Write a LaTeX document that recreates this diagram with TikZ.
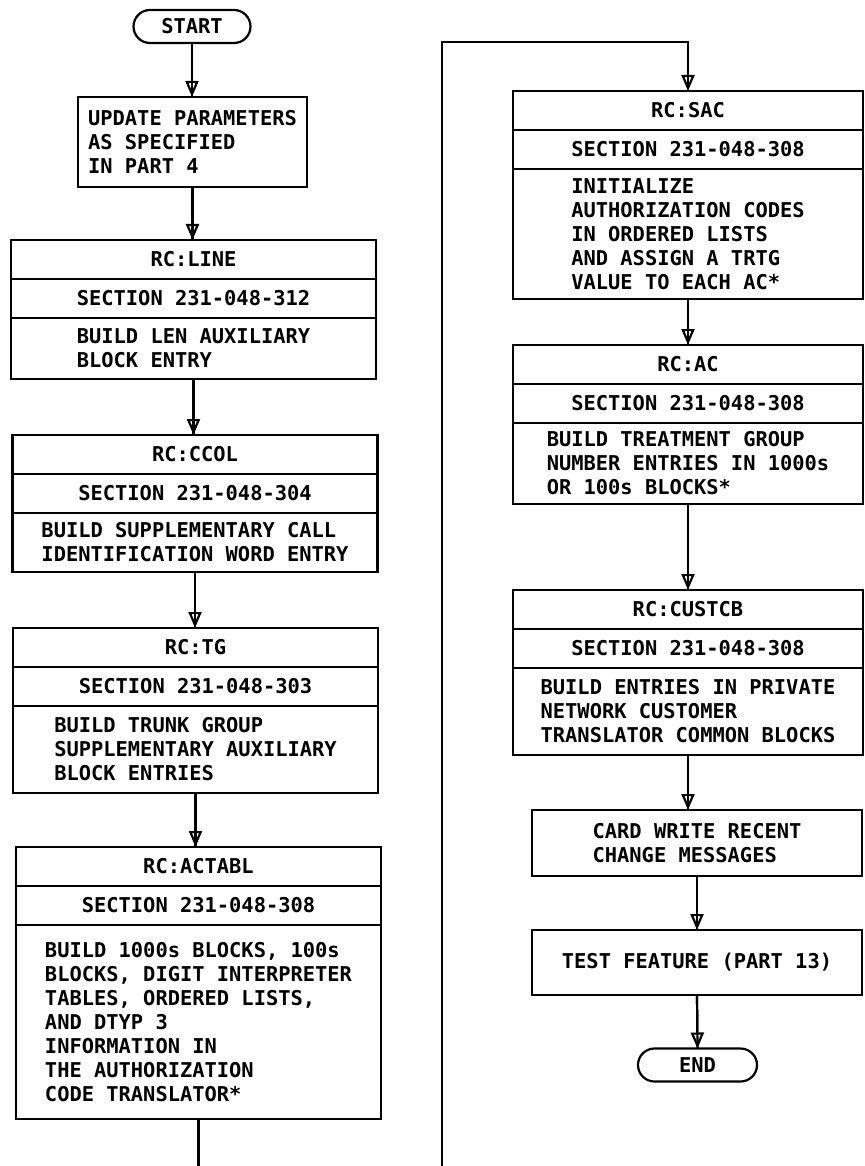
\documentclass[tikz,border=0pt]{standalone}
\usepackage{fontspec}
\setmonofont{DejaVu Sans Mono}
\usetikzlibrary{arrows.meta}
\tikzset{
  wire/.style={draw, line width=1.1pt},
  flow/.style={wire, postaction={draw, -{Triangle[open, length=8pt, width=6.5pt]}}},
  term/.style={draw, line width=1.1pt, rounded corners=8.25pt, minimum height=16.5pt,
              inner sep=0pt, outer sep=0pt, font=\ttfamily\bfseries\fontsize{10.2}{12}\selectfont},
  blk/.style={draw, line width=1.1pt, align=left, inner sep=0pt, outer sep=0pt,
              font=\ttfamily\bfseries\fontsize{10.2}{12}\selectfont},
  row/.style={blk, minimum height=19.5pt},
  lcol/.style={minimum width=182.5pt},
  rcol/.style={minimum width=175pt},
}
% three stacked rows: name, column, top, title, section, body height, body
\newcommand{\rcblock}[7]{%
  \node[row,#2,anchor=north] (#1a) at #3 {#4};
  \node[row,#2,anchor=north] (#1b) at (#1a.south) {#5};
  \node[blk,#2,anchor=north,minimum height=#6] (#1c) at (#1b.south) {#7};}
\begin{document}
\begin{tikzpicture}[x=0.5pt,y=-0.5pt]
  \useasboundingbox (0,0) rectangle (864,1166);
  \coordinate (pgtop) at (0,42);
  \coordinate (pgbot) at (0,1166);
  % left column
  \node[term,minimum width=58.5pt] (start) at (192,26.5) {START};
  \node[blk,minimum width=114.5pt,minimum height=45pt] (upd) at (192.5,142)
    {UPDATE PARAMETERS\\AS SPECIFIED\\IN PART 4};
  \rcblock{line}{lcol}{(193.5,240)}{RC:LINE}{SECTION 231-048-312}{30.5pt}
    {BUILD LEN AUXILIARY\\BLOCK ENTRY}
  \rcblock{ccol}{lcol}{(195,435)}{RC:CCOL}{SECTION 231-048-304}{29.5pt}
    {BUILD SUPPLEMENTARY CALL\\IDENTIFICATION WORD ENTRY}
  \rcblock{tg}{lcol}{(195.5,628)}{RC:TG}{SECTION 231-048-303}{43.5pt}
    {BUILD TRUNK GROUP\\SUPPLEMENTARY AUXILIARY\\BLOCK ENTRIES}
  \rcblock{actabl}{lcol}{(198.5,847)}{RC:ACTABL}{SECTION 231-048-308}{97pt}
    {BUILD 1000s BLOCKS, 100s\\BLOCKS, DIGIT INTERPRETER\\TABLES, ORDERED LISTS,\\AND DTYP 3\\INFORMATION IN\\THE AUTHORIZATION\\CODE TRANSLATOR*}
  % right column
  \rcblock{sac}{rcol}{(688,91)}{RC:SAC}{SECTION 231-048-308}{65pt}
    {INITIALIZE\\AUTHORIZATION CODES\\IN ORDERED LISTS\\AND ASSIGN A TRTG\\VALUE TO EACH AC*}
  \rcblock{ac}{rcol}{(688,345)}{RC:AC}{SECTION 231-048-308}{40.5pt}
    {BUILD TREATMENT GROUP\\NUMBER ENTRIES IN 1000s\\OR 100s BLOCKS*}
  \rcblock{custcb}{rcol}{(688,590)}{RC:CUSTCB}{SECTION 231-048-308}{43.5pt}
    {BUILD ENTRIES IN PRIVATE\\NETWORK CUSTOMER\\TRANSLATOR COMMON BLOCKS}
  \node[blk,minimum width=165pt,minimum height=33pt] (card) at (697,843)
    {CARD WRITE RECENT\\CHANGE MESSAGES};
  \node[blk,minimum width=165pt,minimum height=32.5pt] (test) at (697,962.5)
    {TEST FEATURE (PART 13)};
  \node[term,minimum width=59.5pt] (end) at (697.5,1065) {END};
  % connectors
  \draw[flow] (start.south) -- (start.south |- upd.north);
  \draw[flow] (upd.south) -- (upd.south |- linea.north);
  \draw[flow] (linec.south) -- (linec.south |- ccola.north);
  \draw[flow] (ccolc.south) -- (ccolc.south |- tga.north);
  \draw[flow] (tgc.south) -- (tgc.south |- actabla.north);
  \draw[wire] (actablc.south) -- (actablc.south |- pgbot);
  \coordinate (offR) at (442,1166);
  \draw[flow] (offR) |- (saca.north |- pgtop) -- (saca.north);
  \draw[flow] (sacc.south) -- (aca.north);
  \draw[flow] (acc.south) -- (custcba.north);
  \draw[flow] (custcbc.south) -- (custcbc.south |- card.north);
  \draw[flow] (card.south) -- (test.north);
  \draw[flow] (test.south) -- (end.north);
\end{tikzpicture}
\end{document}
